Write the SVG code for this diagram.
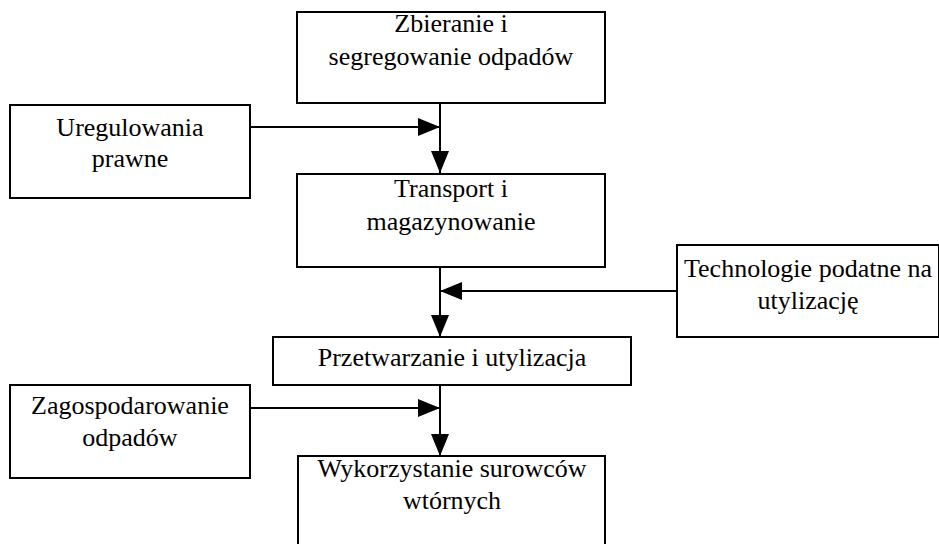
<svg xmlns="http://www.w3.org/2000/svg" width="939" height="544" viewBox="0 0 939 544">
<defs>
<marker id="ah" viewBox="0 0 22 18" refX="22" refY="9" markerWidth="22" markerHeight="18" markerUnits="userSpaceOnUse" orient="auto">
<path d="M0,0 L22,9 L0,18 Z" fill="#000"/>
</marker>
<style>
.box{fill:#fff;stroke:#000;stroke-width:2}
.t{font-family:"Liberation Serif","Times New Roman",serif;font-size:26px;fill:#000;text-anchor:middle}
.c{fill:none;stroke:#000;stroke-width:2;marker-end:url(#ah)}
</style>
</defs>
<rect width="939" height="544" fill="#fff"/>
<g id="connectors">
<path class="c" d="M440,103 L440,173"/>
<path class="c" d="M250,127 L440,127"/>
<path class="c" d="M440,267 L440,337"/>
<path class="c" d="M677,291 L440,291"/>
<path class="c" d="M440,385 L440,456"/>
<path class="c" d="M250,408 L440,408"/>
</g>
<g id="zbieranie">
<rect class="box" x="297" y="12" width="308" height="91"/>
<text class="t" x="451" y="32">Zbieranie i</text>
<text class="t" x="451" y="65">segregowanie odpadów</text>
</g>
<g id="uregulowania">
<rect class="box" x="10" y="105" width="240" height="93"/>
<text class="t" x="130" y="136">Uregulowania</text>
<text class="t" x="130" y="167">prawne</text>
</g>
<g id="transport">
<rect class="box" x="297" y="174" width="308" height="93"/>
<text class="t" x="451" y="197">Transport i</text>
<text class="t" x="451" y="230">magazynowanie</text>
</g>
<g id="technologie">
<rect class="box" x="677" y="245" width="262" height="92"/>
<text class="t" x="808" y="277">Technologie podatne na</text>
<text class="t" x="808" y="309">utylizację</text>
</g>
<g id="przetwarzanie">
<rect class="box" x="273" y="337" width="358" height="48"/>
<text class="t" x="452" y="366">Przetwarzanie i utylizacja</text>
</g>
<g id="zagospodarowanie">
<rect class="box" x="10" y="385" width="240" height="93"/>
<text class="t" x="130" y="414">Zagospodarowanie</text>
<text class="t" x="130" y="446">odpadów</text>
</g>
<g id="wykorzystanie">
<rect class="box" x="298" y="456" width="307" height="95"/>
<text class="t" x="452" y="477">Wykorzystanie surowców</text>
<text class="t" x="452" y="509">wtórnych</text>
</g>
</svg>
